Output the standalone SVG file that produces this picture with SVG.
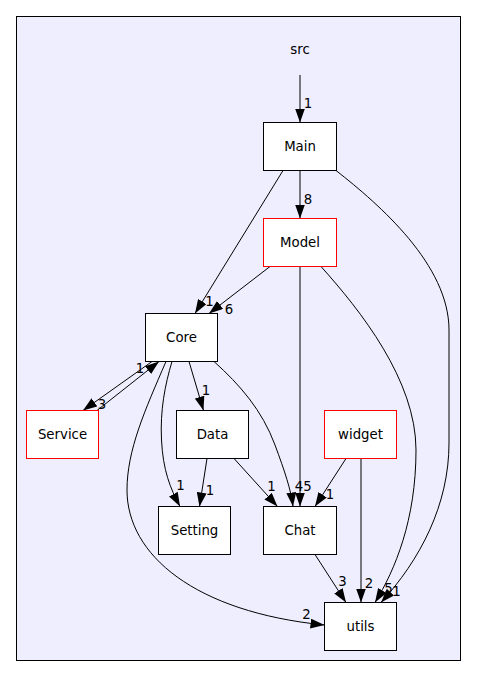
<svg xmlns="http://www.w3.org/2000/svg" width="477" height="677" viewBox="0 0 477 677">
<style>
text{font-family:"DejaVu Sans","Liberation Sans",sans-serif;font-size:13.3px;fill:#000;text-anchor:middle}
.n{fill:#fff;stroke:#000;stroke-width:1}
.r{fill:#fff;stroke:#ff0000;stroke-width:1}
.e{fill:none;stroke:#000;stroke-width:1;marker-end:url(#ah)}
</style>
<defs>
<marker id="ah" markerUnits="userSpaceOnUse" markerWidth="14" markerHeight="10" viewBox="0 0 13.3 9.4" refX="13.3" refY="4.7" orient="auto">
<path d="M0,0 L13.3,4.7 L0,9.4 z" fill="#000"/>
</marker>
</defs>
<g id="cluster_src">
<rect x="16.5" y="16.5" width="444" height="644" fill="#eeeeff" stroke="#000"/>
<text x="300" y="54">src</text>
</g>
<g id="edges">
<path class="e" d="M300,75 L300,122.5"/>
<text x="308" y="107.5">1</text>
<path class="e" d="M300,170.5 L300,218.5"/>
<text x="308" y="204">8</text>
<path class="e" d="M283,170.5 L195,313.5"/>
<text x="209.5" y="306">1</text>
<path class="e" d="M336,170.5 C380,205 449,265 449,330 L449,443 C449,505 420,560 381,602.5"/>
<text x="396.5" y="596">1</text>
<path class="e" d="M270,266.5 L209,313.5"/>
<text x="229" y="313.5">6</text>
<path class="e" d="M300,266.5 L300,506.5"/>
<text x="307.5" y="491">5</text>
<path class="e" d="M321,266.5 C360,310 416,380 416,450 C416,520 395,570 375,602.5"/>
<text x="388.5" y="592.5">5</text>
<path class="e" d="M152,361.5 L83,410.5"/>
<text x="102" y="409">3</text>
<path class="e" d="M97,410.5 L159,361.5"/>
<text x="140" y="372.5">1</text>
<path class="e" d="M189,361.5 L203.5,410.5"/>
<text x="206" y="394.5">1</text>
<path class="e" d="M214,361.5 C240,385 262,410 275,445 C285,472 291,490 293,506.5"/>
<text x="299" y="491">4</text>
<path class="e" d="M172,361.5 C165,385 160,410 161.5,440 C163,470 170,488 180,506.5"/>
<text x="180.5" y="490">1</text>
<path class="e" d="M166,361.5 C145,410 127,450 127,490 C127,555 195,612 324.5,625"/>
<text x="306.5" y="619">2</text>
<path class="e" d="M207,458.5 L199.5,506.5"/>
<text x="210" y="494.5">1</text>
<path class="e" d="M234,458.5 L277.5,506.5"/>
<text x="271.5" y="491">1</text>
<path class="e" d="M346,458.5 L315,506.5"/>
<text x="330" y="499">1</text>
<path class="e" d="M361,458.5 L361,602.5"/>
<text x="369" y="588">2</text>
<path class="e" d="M315,554.5 L346,602.5"/>
<text x="342.5" y="586">3</text>
</g>
<g id="Main"><rect class="n" x="263.5" y="122.5" width="73" height="48"/><text x="300" y="151">Main</text></g>
<g id="Model"><rect class="r" x="263.5" y="218.5" width="73" height="48"/><text x="300" y="247">Model</text></g>
<g id="Core"><rect class="n" x="145.5" y="313.5" width="72" height="48"/><text x="181.5" y="342">Core</text></g>
<g id="Service"><rect class="r" x="26.5" y="410.5" width="72" height="48"/><text x="62.5" y="439">Service</text></g>
<g id="Data"><rect class="n" x="176.5" y="410.5" width="72" height="48"/><text x="212.5" y="439">Data</text></g>
<g id="widget"><rect class="r" x="324.5" y="410.5" width="72" height="48"/><text x="360.5" y="439">widget</text></g>
<g id="Setting"><rect class="n" x="158.5" y="506.5" width="72" height="48"/><text x="194.5" y="535">Setting</text></g>
<g id="Chat"><rect class="n" x="263.5" y="506.5" width="73" height="48"/><text x="300" y="535">Chat</text></g>
<g id="utils"><rect class="n" x="324.5" y="602.5" width="72" height="48"/><text x="360.5" y="631">utils</text></g>
</svg>
